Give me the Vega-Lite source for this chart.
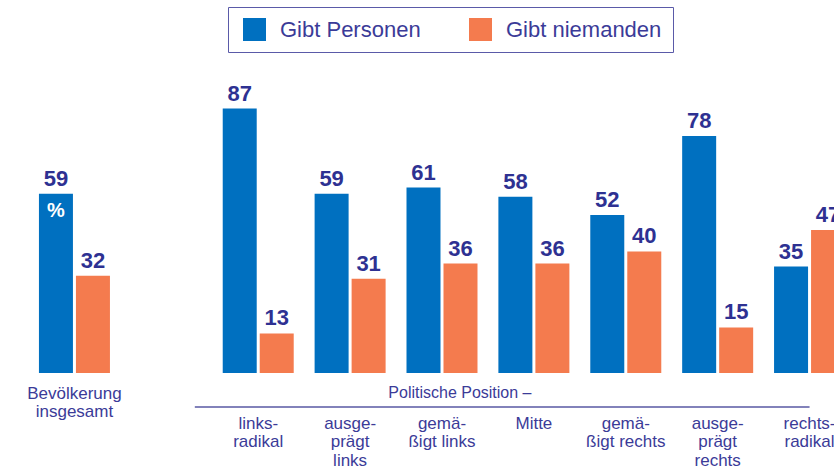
{
  "$schema": "https://vega.github.io/schema/vega-lite/v6.json",
  "width": 827,
  "height": 304,
  "autosize": {"type": "none"},
  "padding": {"left": 28.5, "top": 69, "right": 0, "bottom": 95},
  "background": "white",
  "config": {"view": {"stroke": null}, "font": "Liberation Sans"},
  "data": {
    "values": [
      {"kat": "Bevölkerung|insgesamt", "serie": "Gibt Personen", "wert": 59},
      {"kat": "Bevölkerung|insgesamt", "serie": "Gibt niemanden", "wert": 32},
      {"kat": "links-|radikal", "serie": "Gibt Personen", "wert": 87},
      {"kat": "links-|radikal", "serie": "Gibt niemanden", "wert": 13},
      {"kat": "ausge-|prägt|links", "serie": "Gibt Personen", "wert": 59},
      {"kat": "ausge-|prägt|links", "serie": "Gibt niemanden", "wert": 31},
      {"kat": "gemä-|ßigt links", "serie": "Gibt Personen", "wert": 61},
      {"kat": "gemä-|ßigt links", "serie": "Gibt niemanden", "wert": 36},
      {"kat": "Mitte", "serie": "Gibt Personen", "wert": 58},
      {"kat": "Mitte", "serie": "Gibt niemanden", "wert": 36},
      {"kat": "gemä-|ßigt rechts", "serie": "Gibt Personen", "wert": 52},
      {"kat": "gemä-|ßigt rechts", "serie": "Gibt niemanden", "wert": 40},
      {"kat": "ausge-|prägt|rechts", "serie": "Gibt Personen", "wert": 78},
      {"kat": "ausge-|prägt|rechts", "serie": "Gibt niemanden", "wert": 15},
      {"kat": "rechts-|radikal", "serie": "Gibt Personen", "wert": 35},
      {"kat": "rechts-|radikal", "serie": "Gibt niemanden", "wert": 47}
    ]
  },
  "layer": [
    {
      "mark": {"type": "bar"},
      "encoding": {
        "x": {
          "field": "kat",
          "type": "nominal",
          "scale": {
            "domain": ["Bevölkerung|insgesamt", "_", "links-|radikal", "ausge-|prägt|links", "gemä-|ßigt links", "Mitte", "gemä-|ßigt rechts", "ausge-|prägt|rechts", "rechts-|radikal"],
            "paddingInner": 0,
            "paddingOuter": 0
          },
          "axis": {
            "title": null,
            "domain": false,
            "ticks": false,
            "grid": false,
            "labelAngle": 0,
            "labelAlign": "center",
            "labelBaseline": "top",
            "labelExpr": "datum.value === '_' ? '' : split(datum.value, '|')",
            "labelFont": "Liberation Sans",
            "labelFontSize": 17,
            "labelColor": "#3b3b98",
            "labelLineHeight": 18.5,
            "labelOverlap": false,
            "labelLimit": 0,
            "labelPadding": {"condition": {"test": "datum.value === 'Bevölkerung|insgesamt'", "value": 12}, "value": 42}
          }
        },
        "y": {"field": "wert", "type": "quantitative", "scale": {"domain": [0, 100]}, "axis": null},
        "xOffset": {"field": "serie", "type": "nominal", "scale": {"domain": ["Gibt Personen", "Gibt niemanden"], "paddingInner": 0.0811, "paddingOuter": 0.2823}},
        "color": {
          "field": "serie",
          "type": "nominal",
          "scale": {"domain": ["Gibt Personen", "Gibt niemanden"], "range": ["#0070c0", "#f47b4e"]},
          "legend": {
            "title": null,
            "orient": "none",
            "legendX": 199.5,
            "legendY": -62,
            "direction": "horizontal",
            "symbolType": "square",
            "symbolSize": 529,
            "symbolStrokeWidth": 0,
            "symbolOpacity": 1,
            "symbolOffset": 4,
            "labelFont": "Liberation Sans",
            "labelFontSize": 22,
            "labelColor": "#3b3b98",
            "labelOffset": 14,
            "labelLimit": 0,
            "columnPadding": 44,
            "padding": 11,
            "strokeColor": "#5a5aa8"
          }
        }
      }
    },
    {
      "mark": {"type": "text", "baseline": "alphabetic", "align": "center", "dy": -8, "fontWeight": "bold", "fontSize": 22, "font": "Liberation Sans", "color": "#2e3192"},
      "encoding": {
        "x": {"field": "kat", "type": "nominal"},
        "y": {"field": "wert", "type": "quantitative"},
        "xOffset": {"field": "serie", "type": "nominal"},
        "text": {"field": "wert", "type": "quantitative"}
      }
    },
    {
      "transform": [{"filter": "datum.kat === 'Bevölkerung|insgesamt' && datum.serie === 'Gibt Personen'"}],
      "mark": {"type": "text", "baseline": "top", "align": "center", "dy": 7, "fontWeight": "bold", "fontSize": 20, "font": "Liberation Sans", "color": "white"},
      "encoding": {
        "x": {"field": "kat", "type": "nominal"},
        "y": {"field": "wert", "type": "quantitative"},
        "xOffset": {"field": "serie", "type": "nominal"},
        "text": {"value": "%"}
      }
    },
    {
      "data": {"values": [{"titel": "Politische Position –"}]},
      "mark": {"type": "rule", "color": "#8282ba", "strokeWidth": 2},
      "encoding": {
        "x": {"datum": "_", "type": "nominal", "bandPosition": 0.81},
        "x2": {"datum": "rechts-|radikal"},
        "y": {"datum": -11.2, "type": "quantitative"}
      }
    },
    {
      "data": {"values": [{"titel": "Politische Position –"}]},
      "mark": {"type": "text", "align": "center", "baseline": "alphabetic", "fontSize": 16, "font": "Liberation Sans", "color": "#3b3b98"},
      "encoding": {
        "x": {"datum": "gemä-|ßigt links", "type": "nominal", "bandPosition": 0.695},
        "y": {"datum": -8.2, "type": "quantitative"},
        "text": {"field": "titel", "type": "nominal"}
      }
    }
  ]
}
